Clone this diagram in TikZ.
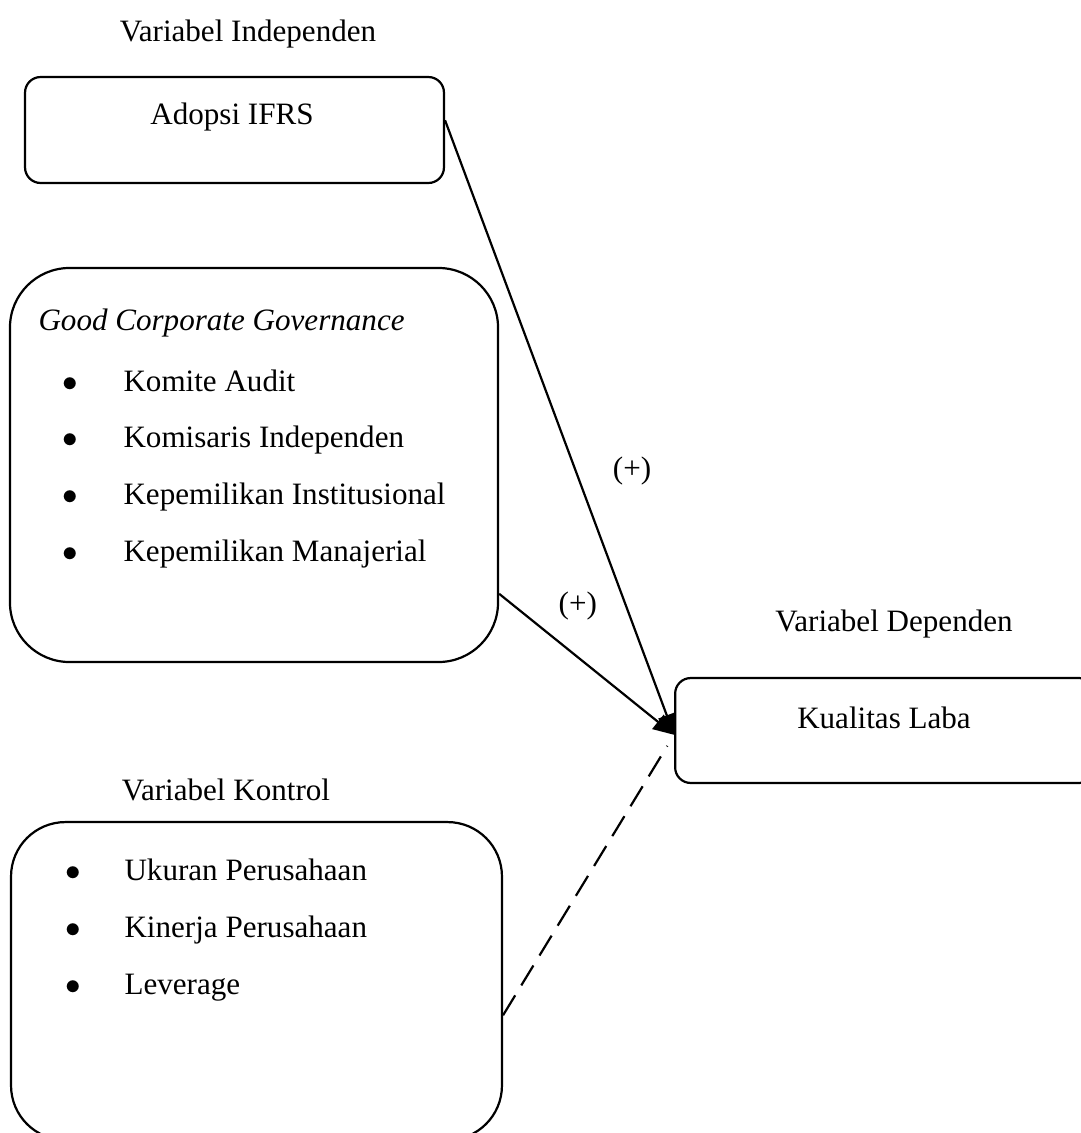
\documentclass[tikz,border=0pt]{standalone}
\usepackage{fontspec}
\setmainfont{Liberation Serif}
\usepackage{tikz}
\usetikzlibrary{arrows.meta}
\usetikzlibrary{positioning}
\usetikzlibrary{calc}

\begin{document}
\begin{tikzpicture}[x=0.386pt, y=-0.386pt, font=\fontsize{12pt}{14pt}\selectfont,
        box/.style={draw, line width=0.85pt, inner sep=0pt},
        lbl/.style={inner sep=0pt},
        item/.style={inner sep=0pt, anchor=base west},
        dot/.style={inner sep=0pt, anchor=base},
        link/.style={line width=0.85pt, -{Triangle[length=8pt, width=7pt]}}]
        % Page size of the figure
        \useasboundingbox (0,0) rectangle (1081,1133);

        % Draw the boxes
        \node[box, rounded corners=6pt, minimum width=161.7pt, minimum height=40.9pt] (ifrs) at (234.5,130) {};
        \node[box, rounded corners=23pt, minimum width=188.4pt, minimum height=152.1pt] (gcg) at (254,465) {};
        \node[box, rounded corners=21pt, minimum width=189.5pt, minimum height=122.7pt] (ctrl) at (256.5,981) {};
        \node[box, rounded corners=6pt, minimum width=162pt, minimum height=40.5pt] (laba) at (885,730.5) {};

        % Headings above the boxes
        \node[lbl] (indep) at (248,34) {Variabel Independen};
        \node[lbl] (dep) at (894,624) {Variabel Dependen};
        \node[lbl] (kontrol) at (226,790) {Variabel Kontrol};

        % Texts in the boxes
        \node[lbl] (ifrstext) at (232,117) {Adopsi IFRS};
        \node[lbl] (labatext) at (884,718) {Kualitas Laba};
        \node[item] (gcgtitle) at (38,330) {\textit{Good Corporate Governance}};

        % Bullet lists
        \foreach \t [count=\i] in {Komite Audit, Komisaris Independen, Kepemilikan Institusional, Kepemilikan Manajerial}
        {
          \node[dot] (gb\i) at (70,{391 + 56.7*(\i - 1)}) {$\bullet$};
          \node[item] (g\i) at (123,{391 + 56.7*(\i - 1)}) {\t};
        }
        \foreach \t [count=\i] in {Ukuran Perusahaan, Kinerja Perusahaan, Leverage}
        {
          \node[dot] (cb\i) at (73,{880 + 57*(\i - 1)}) {$\bullet$};
          \node[item] (c\i) at (124,{880 + 57*(\i - 1)}) {\t};
        }

        % Connectors
        \draw[link] ($(ifrs.north east)!0.41!(ifrs.south east)$) -- ($(laba.north west)!0.54!(laba.south west)$)
          node[lbl, pos=0.57, right=14pt] (p1) {(+)};
        \draw[link] ($(gcg.north east)!0.825!(gcg.south east)$) -- ($(laba.north west)!0.54!(laba.south west)$)
          node[lbl, pos=0.45, above=14pt] (p2) {(+)};
        \draw[line width=0.85pt, dash pattern=on 9pt off 4.5pt, shorten >=5pt] ($(ctrl.north east)!0.607!(ctrl.south east)$) -- ($(laba.north west)!0.54!(laba.south west)$);
      \end{tikzpicture}
\end{document}
